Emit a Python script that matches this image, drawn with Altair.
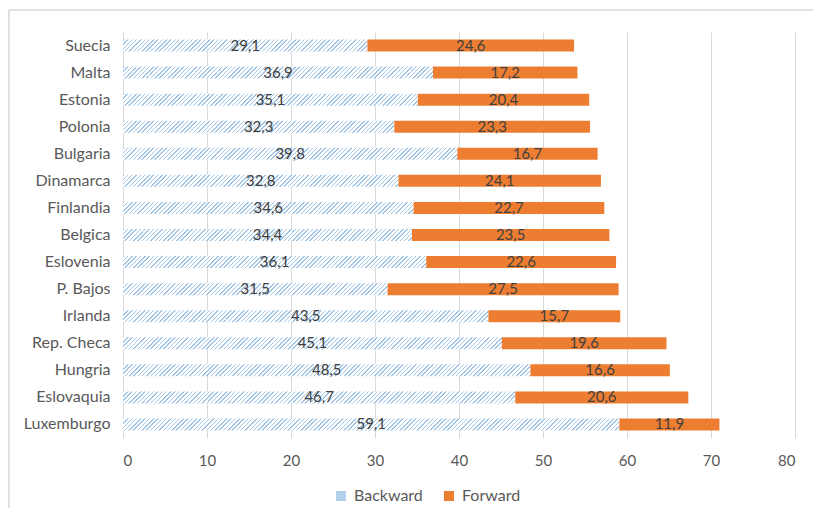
import altair as alt
import pandas as pd

countries = ["Suecia", "Malta", "Estonia", "Polonia", "Bulgaria", "Dinamarca", "Finlandia",
             "Belgica", "Eslovenia", "P. Bajos", "Irlanda", "Rep. Checa", "Hungria",
             "Eslovaquia", "Luxemburgo"]
backward = [29.1, 36.9, 35.1, 32.3, 39.8, 32.8, 34.6, 34.4, 36.1, 31.5, 43.5, 45.1, 48.5, 46.7, 59.1]
forward = [24.6, 17.2, 20.4, 23.3, 16.7, 24.1, 22.7, 23.5, 22.6, 27.5, 15.7, 19.6, 16.6, 20.6, 11.9]
series = ["Backward", "Forward"]
x_ticks = [0, 10, 20, 30, 40, 50, 60, 70, 80]

df = pd.DataFrame({"country": countries, "backward": backward, "forward": forward})

FONT = "Lato"
W, H = 672, 406
BAR_H = 12
PX_PER_UNIT = W / 80.0
ORANGE = "#ED7D31"
HATCH = "#a4c6e6"


def hatch_gradient(width_px, height_px=BAR_H, period=4.3, lw=1.5, color=HATCH):
    L = width_px + height_px
    a = L / (width_px ** 2 + height_px ** 2)
    stops = []
    k = 0
    while k * period < L:
        o1 = k * period / L
        o2 = min((k * period + lw) / L, 1.0)
        stops += [
            {"offset": o1, "color": "#ffffff"},
            {"offset": o1, "color": color},
            {"offset": o2, "color": color},
            {"offset": o2, "color": "#ffffff"},
        ]
        k += 1
    stops.append({"offset": 1.0, "color": "#ffffff"})
    return {"gradient": "linear", "x1": 0, "y1": 0, "x2": a * width_px, "y2": a * height_px,
            "stops": stops}


fill_cond = None
for c, b in zip(countries, backward):
    g = alt.value(hatch_gradient(b * PX_PER_UNIT))
    if fill_cond is None:
        fill_cond = alt.when(alt.datum.country == c).then(g)
    else:
        fill_cond = fill_cond.when(alt.datum.country == c).then(g)
fill_enc = fill_cond.otherwise(alt.value("#d2e4f4"))

color_scale = alt.Scale(domain=series, range=["#b3d0ec", ORANGE])
legend = alt.Legend(title=None, orient="none", legendX=210, legendY=456, direction="horizontal",
                    symbolType="square", symbolSize=100, symbolStrokeWidth=0,
                    labelFont=FONT, labelFontSize=16, labelColor="#595959",
                    labelOffset=5, columnPadding=18, padding=0)

y_enc = alt.Y("country:N", sort=countries, title=None,
              scale=alt.Scale(paddingInner=0.55, paddingOuter=0.275),
              axis=alt.Axis(domain=False, ticks=False, labelPadding=13, labelFont=FONT,
                            labelFontSize=16, labelColor="#595959"))
x_scale = alt.Scale(domain=[0, 80], nice=False, zero=True)
x_axis = alt.Axis(values=x_ticks, domain=False, ticks=False, grid=True, gridColor="#d9d9d9",
                  gridWidth=1, labelPadding=15, labelFont=FONT, labelFontSize=15,
                  labelColor="#595959", title=None)

base = alt.Chart(df).transform_calculate(
    end="datum.backward + datum.forward",
    mid_b="datum.backward / 2",
    mid_f="datum.backward + datum.forward / 2",
    lab_b="replace(format(datum.backward, '.1f'), '.', ',')",
    lab_f="replace(format(datum.forward, '.1f'), '.', ',')",
    s_b="'" + series[0] + "'",
    s_f="'" + series[1] + "'",
)

bars_b = base.mark_bar(size=BAR_H).encode(
    y=y_enc,
    x=alt.X("backward:Q", scale=x_scale, axis=x_axis),
    color=alt.Color("s_b:N", scale=color_scale, legend=legend),
    fill=fill_enc,
)
bars_f = base.mark_bar(size=BAR_H).encode(
    y=y_enc,
    x=alt.X("backward:Q", scale=x_scale),
    x2="end:Q",
    color=alt.Color("s_f:N", scale=color_scale, legend=legend),
)
text_style = dict(font=FONT, fontSize=15, color="#404040", align="center", baseline="middle")
labels_b = base.mark_text(**text_style).encode(
    y=y_enc, x=alt.X("mid_b:Q", scale=x_scale), text="lab_b:N")
labels_f = base.mark_text(**text_style).encode(
    y=y_enc, x=alt.X("mid_f:Q", scale=x_scale), text="lab_f:N")

frame_data = alt.Data(values=[{"k": 1}])
frame_top = alt.Chart(frame_data).mark_rule(color="#d9d9d9", strokeWidth=1.5).encode(
    x=alt.value(-114), x2=alt.value(W + 40), y=alt.value(-22))
frame_left = alt.Chart(frame_data).mark_rule(color="#d9d9d9", strokeWidth=1.5).encode(
    x=alt.value(-114), y=alt.value(-22), y2=alt.value(H + 80))

chart = alt.layer(frame_top, frame_left, bars_b, bars_f, labels_b, labels_f).properties(
    width=W, height=H,
    background="white",
    autosize=alt.AutoSizeParams(type="none"),
    padding={"left": 115, "top": 24, "right": 18, "bottom": 70},
).configure_view(stroke=None)

chart.save("out.html", embed_options={"renderer": "svg", "actions": False})
